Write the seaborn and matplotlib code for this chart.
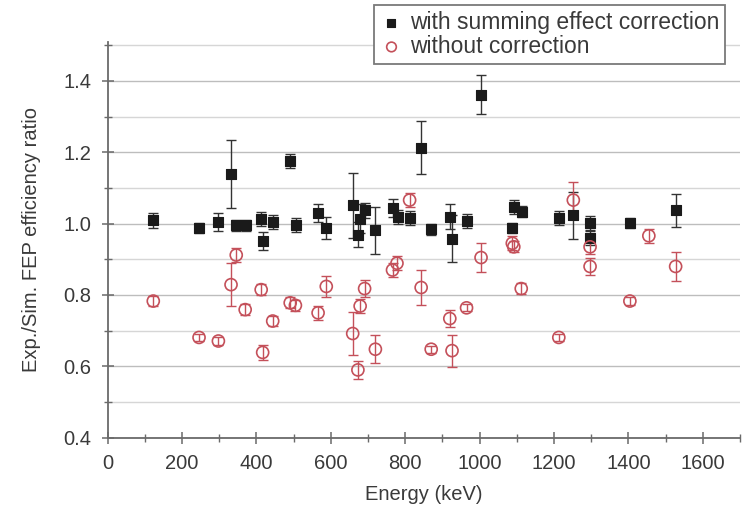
import numpy as np
import pandas as pd
import matplotlib
matplotlib.use("Agg")
import matplotlib.pyplot as plt
import seaborn as sns
from matplotlib.ticker import MultipleLocator

# ---- data ----
energy_corr = [123, 246, 298, 332, 346, 372, 413, 417, 444, 491, 506, 566, 588,
               659, 673, 679, 693, 720, 766, 781, 812, 843, 870, 921, 926, 967,
               1004, 1088, 1092, 1115, 1213, 1252, 1298, 1297, 1404, 1527]
ratio_corr = [1.009, 0.988, 1.005, 1.139, 0.995, 0.995, 1.014, 0.951, 1.005, 1.176,
              0.997, 1.030, 0.988, 1.051, 0.969, 1.014, 1.037, 0.981, 1.044, 1.019,
              1.016, 1.213, 0.984, 1.019, 0.958, 1.008, 1.361, 0.988, 1.046, 1.034,
              1.016, 1.023, 1.002, 0.960, 1.002, 1.037]
err_corr = [0.020, 0.015, 0.025, 0.095, 0.015, 0.015, 0.020, 0.025, 0.020, 0.020,
            0.020, 0.025, 0.030, 0.090, 0.035, 0.040, 0.020, 0.065, 0.025, 0.020,
            0.020, 0.075, 0.015, 0.035, 0.065, 0.020, 0.055, 0.015, 0.020, 0.015,
            0.020, 0.065, 0.020, 0.020, 0.015, 0.045]

energy_raw = [123, 246, 298, 332, 346, 370, 413, 417, 444, 491, 505, 566, 588,
              659, 673, 679, 691, 720, 766, 778, 812, 843, 870, 920, 926, 965,
              1004, 1088, 1092, 1112, 1213, 1252, 1297, 1297, 1404, 1455, 1527]
ratio_raw = [0.783, 0.681, 0.671, 0.829, 0.912, 0.759, 0.815, 0.639, 0.727, 0.778,
             0.771, 0.750, 0.824, 0.692, 0.590, 0.769, 0.818, 0.648, 0.870, 0.889,
             1.066, 0.821, 0.648, 0.734, 0.644, 0.764, 0.905, 0.945, 0.935, 0.818,
             0.681, 1.066, 0.935, 0.880, 0.783, 0.966, 0.880]
err_raw = [0.015, 0.010, 0.010, 0.060, 0.020, 0.015, 0.015, 0.020, 0.015, 0.015,
           0.015, 0.020, 0.030, 0.060, 0.025, 0.020, 0.025, 0.040, 0.020, 0.020,
           0.020, 0.050, 0.010, 0.025, 0.045, 0.010, 0.040, 0.020, 0.015, 0.015,
           0.010, 0.050, 0.020, 0.025, 0.010, 0.020, 0.040]

series_labels = ["with summing effect correction", "without correction"]
x_label = "Energy (keV)"
y_label = "Exp./Sim. FEP efficiency ratio"

# ---- style ----
sns.set_style("white")
plt.rcParams["font.family"] = ["Liberation Sans", "DejaVu Sans"]
text_col = "#3a3a3a"
axis_col = "#6a6a6a"
red = "#c4505a"

fig = plt.figure(figsize=(7.42, 5.08), dpi=100)
ax = fig.add_axes([0.1449, 0.1384, 0.8524, 0.7795])

df_corr = pd.DataFrame({"Energy": energy_corr, "Ratio": ratio_corr, "Err": err_corr})
df_raw = pd.DataFrame({"Energy": energy_raw, "Ratio": ratio_raw, "Err": err_raw})

# error bars
ax.errorbar(df_corr["Energy"], df_corr["Ratio"], yerr=df_corr["Err"], fmt="none",
            ecolor="#333333", elinewidth=1.0, capsize=3.5, capthick=1.0, zorder=3)
ax.errorbar(df_raw["Energy"], df_raw["Ratio"], yerr=df_raw["Err"], fmt="none",
            ecolor=red, elinewidth=1.0, capsize=3.5, capthick=1.0, zorder=4)

# markers
sns.scatterplot(data=df_corr, x="Energy", y="Ratio", ax=ax, marker="s", s=60,
                color="#1a1a1a", edgecolor="#1a1a1a", linewidth=0.8,
                label=series_labels[0], zorder=5)
sns.scatterplot(data=df_raw, x="Energy", y="Ratio", ax=ax, marker="o", s=75,
                color=red, facecolor="none", edgecolor=red, linewidth=1.2,
                label=series_labels[1], zorder=6)

# axes
ax.set_xlim(0, 1700)
ax.set_ylim(0.4, 1.51)
ax.xaxis.set_major_locator(MultipleLocator(200))
ax.xaxis.set_minor_locator(MultipleLocator(100))
ax.yaxis.set_major_locator(MultipleLocator(0.2))
ax.yaxis.set_minor_locator(MultipleLocator(0.1))
ax.yaxis.set_major_formatter(matplotlib.ticker.FormatStrFormatter("%.1f"))

ax.grid(False)
ax.yaxis.grid(True, which="major", color="#bdbdbd", linewidth=1.0, zorder=0)
ax.yaxis.grid(True, which="minor", color="#d6d6d6", linewidth=1.0, zorder=0)
ax.set_axisbelow(True)

for side in ["top", "right"]:
    ax.spines[side].set_visible(False)
for side in ["left", "bottom"]:
    ax.spines[side].set_color(axis_col)
    ax.spines[side].set_linewidth(1.3)

ax.tick_params(which="major", direction="inout", length=9, width=1.1,
               color=axis_col, labelcolor=text_col, labelsize=14.5, pad=7,
               left=True, bottom=True)
ax.tick_params(which="minor", direction="inout", length=6, width=1.0,
               color=axis_col, left=True, bottom=True)

ax.set_xlabel(x_label, fontsize=14.5, color=text_col, labelpad=9)
ax.set_ylabel(y_label, fontsize=14.5, color=text_col, labelpad=16)

leg = ax.legend(loc="upper right", bbox_to_anchor=(0.977, 0.990),
                bbox_transform=fig.transFigure, borderaxespad=0,
                fontsize=16.5, frameon=True, fancybox=False, framealpha=1,
                edgecolor="#7a7a7a", handletextpad=0.3, labelspacing=0.05,
                borderpad=0.25, handlelength=1.0, markerscale=0.8)
leg.get_frame().set_linewidth(1.3)
for t in leg.get_texts():
    t.set_color(text_col)

fig.savefig("out.png", dpi=100)
